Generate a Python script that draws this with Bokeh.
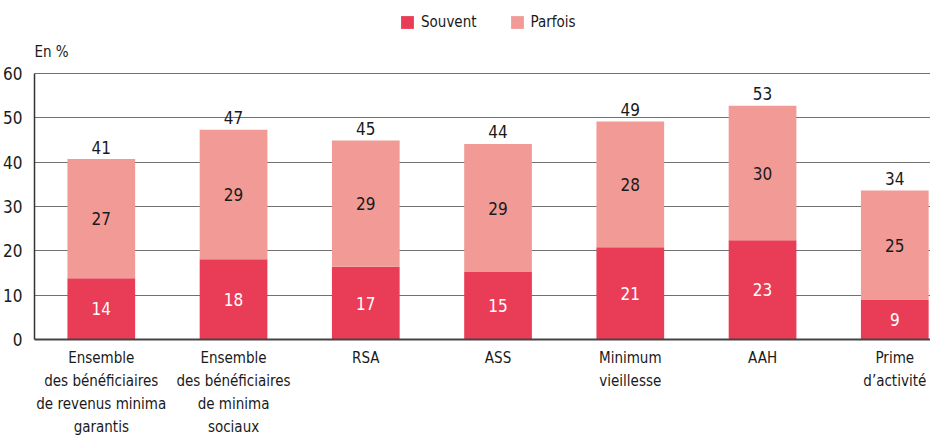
from bokeh.plotting import figure
from bokeh.models import Range1d, Legend, LegendItem, ColumnDataSource, FixedTicker, LinearAxis, Label
from bokeh.embed import file_html
from bokeh.resources import INLINE
from bokeh.core.properties import value

categories = [
    "Ensemble\ndes bénéficiaires\nde revenus minima\ngarantis",
    "Ensemble\ndes bénéficiaires\nde minima\nsociaux",
    "RSA",
    "ASS",
    "Minimum\nvieillesse",
    "AAH",
    "Prime\nd\u2019activité",
]
series_names = ["Souvent", "Parfois"]
souvent = [13.8, 18.1, 16.4, 15.2, 20.8, 22.4, 9.0]
parfois = [26.9, 29.2, 28.5, 28.9, 28.4, 30.3, 24.6]
souvent_labels = ["14", "18", "17", "15", "21", "23", "9"]
parfois_labels = ["27", "29", "29", "29", "28", "30", "25"]
total_labels = ["41", "47", "45", "44", "49", "53", "34"]
y_ticks = [0, 10, 20, 30, 40, 50, 60]
y_unit = "En %"

FONT = "DejaVu Sans Condensed"
C_SOUVENT = "#e83c57"
C_PARFOIS = "#f29a96"
TXT = "#1a1a1a"

# layout (pixels)
FRAME_W = 896
FRAME_H = 335          # frame reaches up to the top so the legend can sit inside it
TOP = 4
AXIS_PX = 266          # pixel length of the 0..60 scale
Y_MAX = y_ticks[-1]
Y_END = Y_MAX * FRAME_H / AXIS_PX

xs = list(range(len(categories)))
src = ColumnDataSource(dict(
    x=xs,
    souvent=souvent,
    parfois=parfois,
    s_mid=[s / 2 for s in souvent],
    p_mid=[s + p / 2 for s, p in zip(souvent, parfois)],
    total=[s + p for s, p in zip(souvent, parfois)],
    s_lab=souvent_labels,
    p_lab=parfois_labels,
    t_lab=total_labels,
))

p = figure(frame_width=FRAME_W, frame_height=FRAME_H,
           x_range=Range1d(-0.505, 6.27), y_range=Range1d(0, Y_END),
           output_backend="svg", toolbar_location=None, x_axis_location=None,
           min_border_left=27, min_border_right=0, min_border_top=TOP, min_border_bottom=0)
p.outline_line_color = None

rs = p.vbar_stack(["souvent", "parfois"], x="x", width=0.512, color=[C_SOUVENT, C_PARFOIS],
                  line_color=None, source=src)

# y axis (line limited to 0..60)
p.yaxis.ticker = FixedTicker(ticks=y_ticks)
p.yaxis.bounds = (0, Y_MAX)
p.yaxis.major_tick_line_color = None
p.yaxis.minor_tick_line_color = None
p.yaxis.axis_line_color = "#333333"
p.yaxis.axis_line_width = 1.5
p.yaxis.major_label_text_font = FONT
p.yaxis.major_label_text_font_size = "17px"
p.yaxis.major_label_text_color = TXT
p.yaxis.major_label_standoff = 6

# x axis: one axis per text line of the category labels
lines = [c.split("\n") for c in categories]
nlines = max(len(l) for l in lines)
for k in range(nlines):
    ax = LinearAxis(ticker=FixedTicker(ticks=xs))
    ax.major_label_overrides = {i: (l[k] if k < len(l) else " ") for i, l in zip(xs, lines)}
    ax.major_tick_line_color = None
    ax.minor_tick_line_color = None
    ax.major_tick_out = 0
    ax.major_tick_in = 0
    ax.major_label_text_font = FONT
    ax.major_label_text_font_size = "15px"
    ax.major_label_text_color = TXT
    if k == 0:
        ax.axis_line_color = "#444444"
        ax.axis_line_width = 2
        ax.major_label_standoff = 9
    else:
        ax.axis_line_color = None
        ax.major_label_standoff = 2
    p.add_layout(ax, "below")

p.xgrid.grid_line_color = None
p.ygrid.ticker = FixedTicker(ticks=y_ticks)
p.ygrid.grid_line_color = "#707070"
p.ygrid.grid_line_width = 1.2

# value labels
common = dict(text_align="center", text_baseline="middle", text_font=value(FONT),
              text_font_size="17px", source=src)
p.text(x="x", y="s_mid", text="s_lab", text_color="white", **common)
p.text(x="x", y="p_mid", text="p_lab", text_color=TXT, **common)
p.text(x="x", y="total", text="t_lab", text_color=TXT, y_offset=-12, **common)

# "En %" unit label, above the 60 line (screen px from the frame's bottom-left)
p.add_layout(Label(x=0, y=AXIS_PX + 22, x_units="screen", y_units="screen", text=y_unit,
                   text_font=FONT, text_font_size="15px", text_color=TXT,
                   text_baseline="middle", text_align="left"))

# legend: location = legend's bottom-left, in px from the frame's bottom-left
legend = Legend(items=[LegendItem(label=n, renderers=[r]) for n, r in zip(series_names, rs)],
                orientation="horizontal", location=(365, AXIS_PX + 42),
                border_line_color=None, background_fill_alpha=0,
                glyph_width=16, glyph_height=16, label_height=16,
                label_text_font=FONT, label_text_font_size="15px", label_text_color=TXT,
                label_standoff=6, spacing=32, padding=0, margin=0)
p.add_layout(legend)

open("out.html", "w").write(file_html(p, INLINE))
